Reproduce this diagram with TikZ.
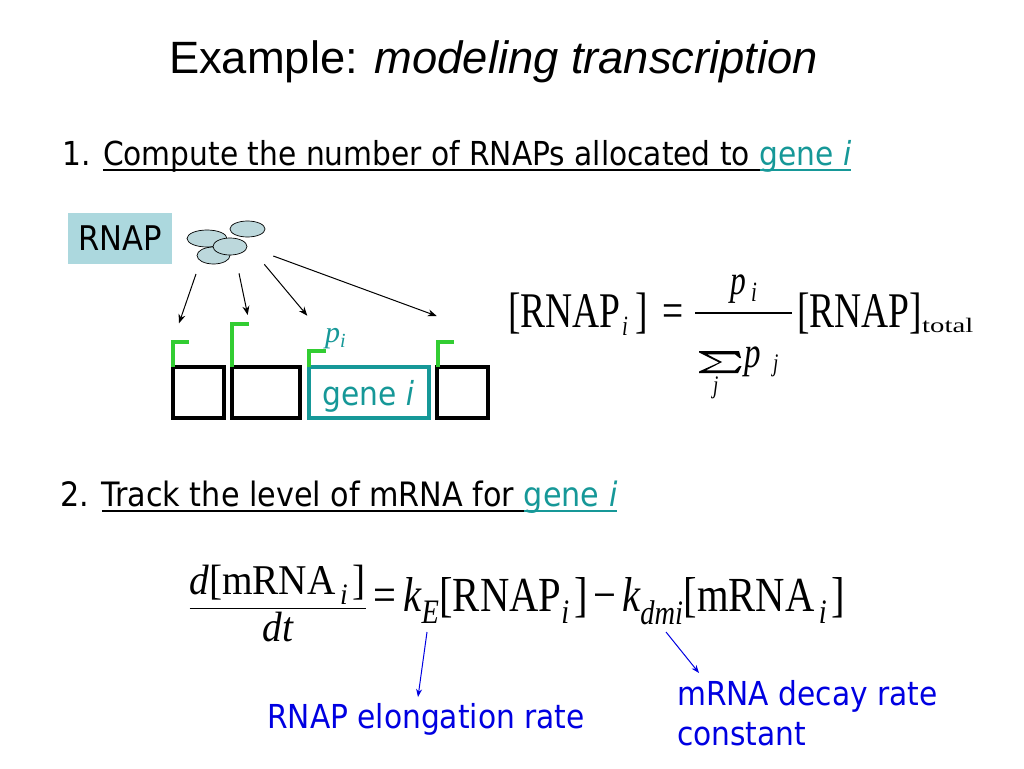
\documentclass[tikz,border=0pt]{standalone}
\usepackage{amsmath}
\usepackage{graphicx}
\usepackage{fontspec}
\setmainfont{Liberation Serif}
\newfontfamily\tahoma{DejaVu Sans Condensed}
\newfontfamily\arialf{Liberation Sans}
\usetikzlibrary{shapes.geometric,arrows.meta}
\definecolor{teal1}{RGB}{22,152,152}
\definecolor{green1}{RGB}{50,205,50}
\definecolor{cellfill}{RGB}{188,216,220}
\definecolor{boxfill}{RGB}{172,216,222}
\definecolor{blue1}{RGB}{0,0,225}
\newlength\ulw
\newcommand\myul[1]{\settowidth\ulw{#1}\rlap{\rule[-5.5pt]{\ulw}{1.8pt}}#1}
\newcommand\vi[1]{\textit{#1}}
\newcommand\vr[1]{\textrm{#1}}
\newcommand\fs[1]{\fontsize{#1}{#1}\selectfont}
\newcommand\tall[2]{\scalebox{1}[1.33]{\fs{#1}#2}}
\tikzset{
  txt/.style={inner sep=0pt, anchor=base west},
  cell/.style={ellipse, draw=black, line width=0.7pt, fill=cellfill, inner sep=0pt},
  genebox/.style={draw=black, line width=4pt},
  prom/.style={draw=green1, line width=4pt},
  darrow/.style={-{Stealth[length=9pt,width=7pt]}, line width=1pt, black},
  barrow/.style={-{Stealth[length=8pt,width=6pt]}, line width=1pt, blue1},
}
\begin{document}
\begin{tikzpicture}[x=1pt,y=-1pt]
\useasboundingbox[fill=white] (0,0) rectangle (1024,768);

% title
\node[inner sep=0pt, anchor=base] (title) at (493.5,73.3)
  {\arialf\fs{45.3}Example: \textit{modeling transcription}};

% line 1
\node[txt] (l1) at (62,165) {\tahoma\fs{33}1. \myul{Compute the number of RNAPs allocated to\ }{\color{teal1}\myul{gene \textit{i}}}};

% RNAP box
\node[fill=boxfill, minimum width=104, minimum height=51, inner sep=0pt] (rnapbox) at (120,238.5)
  {\tahoma\fs{34}RNAP};

% cells
\node[cell, minimum width=35, minimum height=16] (eb) at (247.5,229) {};
\node[cell, minimum width=40, minimum height=17] (ea) at (207,238.5) {};
\node[cell, minimum width=33, minimum height=17] (ed) at (213.5,255.5) {};
\node[cell, minimum width=34, minimum height=17] (ec) at (230,246.5) {};

% arrows from the RNAP cluster
\coordinate (t1) at (179,323.3);
\coordinate (t2) at (247.7,315);
\coordinate (t3) at (307.3,315.7);
\coordinate (t4) at (436.7,316);
\coordinate (s1) at (196,274);
\coordinate (s2) at (239,273.3);
\coordinate (s3) at (264.3,264.3);
\coordinate (s4) at (273.3,256);
\draw[darrow] (s1) -- (t1);
\draw[darrow] (s2) -- (t2);
\draw[darrow] (s3) -- (t3);
\draw[darrow] (s4) -- (t4);

% genes
\draw[genebox] (172.7,367) rectangle (223.7,418);
\draw[genebox] (232,367) rectangle (300.3,418);
\draw[genebox, draw=teal1, line width=3.6pt] (309,367) rectangle (429,418);
\draw[genebox] (437,367) rectangle (488,418);
\node[txt] (genei) at (322,405) {\tahoma\fs{33}\color{teal1}gene \textit{i}};

% promoters
\draw[prom] (172.7,367) -- (172.7,342) -- (189,342);
\draw[prom] (232,367) -- (232,324.3) -- (249,324.3);
\draw[prom] (309,367) -- (309,351) -- (325.7,351);
\draw[prom] (437.5,367) -- (437.5,342) -- (454,342);
\node[txt] (pi) at (325,342) {\fs{30}\color{teal1}\textit{p}\raisebox{-5pt}{\fs{20}\textit{i}}};

% formula 1, set piece by piece
\node[txt] (f1a) at (508,327) {\tall{37.5}{[RNAP}};
\node[txt] (f1b) at (622,335) {\tall{21}{\textit{i}}};
\node[txt] (f1c) at (635.5,327) {\tall{37.5}{]}};
\node[txt] (f1d) at (662,327) {\tall{37.5}{=}};
\node[txt] (f1e) at (730,294) {\tall{31.5}{\textit{p}}};
\node[txt] (f1f) at (751,301) {\tall{21}{\textit{i}}};
\draw[line width=1.3pt] (695,313) -- (792,313);
% summation sign drawn as a shape
\fill[black] (699,351) -- (739,351) -- (741,358) -- (739.5,358) -- (735,354.3)
  -- (707,354.3) -- (722,362) -- (706,370.3) -- (735,370.3) -- (739.5,366)
  -- (741.5,366) -- (738,373) -- (699,373) -- (699,371.5) -- (719,362.5)
  -- (699,352.5) -- cycle;
\node[txt] (f1h) at (744,367) {\tall{33}{\textit{p}}};
\node[txt] (f1i) at (773,371) {\tall{19}{\textit{j}}};
\node[txt] (f1j) at (713,393) {\tall{19}{\textit{j}}};
\node[txt] (f1k) at (797,327) {\tall{37.5}{[RNAP]}};
\node[txt] (f1l) at (922,332) {\resizebox*{51pt}{14.5pt}{total}};

% line 2
\node[txt] (l2) at (60,506.7) {\tahoma\fs{33.6}2. \myul{Track the level of mRNA for\ }{\color{teal1}\myul{gene \textit{i}}}};

% formula 2
\node[inner sep=0pt, anchor=north west] (f2a) at (188,565)
  {\resizebox*{179pt}{77pt}{\fs{36}$\dfrac{\vi{d}\vr{[mRNA}_{\,\vi{i}}\,\vr{]}}{\vi{dt}}$}};
\node[txt] (f2b) at (373,611.7)
  {\resizebox{472pt}{34pt}{\fs{38}$\mathrel{\vr{=}} \vi{k}_{\vi{E}}\vr{[RNAP}_{\vi{i}}\,\vr{]} \mathbin{\vr{\char"2212}} \vi{k}_{\vi{dmi}}\vr{[mRNA}_{\,\vi{i}}\,\vr{]}$}};

% blue labels
\node[txt] (lab1) at (267,728) {\tahoma\fs{33}\color{blue1}RNAP elongation rate};
\node[txt] (lab2) at (677,705) {\tahoma\fs{33}\color{blue1}mRNA decay rate};
\node[txt] (lab3) at (677,745) {\tahoma\fs{33}\color{blue1}constant};
\coordinate (kE) at (427,632);
\coordinate (kd) at (666,632);
\coordinate (a1) at (418,697);
\coordinate (a2) at (699,673);
\draw[barrow] (kE) -- (a1);
\draw[barrow] (kd) -- (a2);
\end{tikzpicture}
\end{document}
